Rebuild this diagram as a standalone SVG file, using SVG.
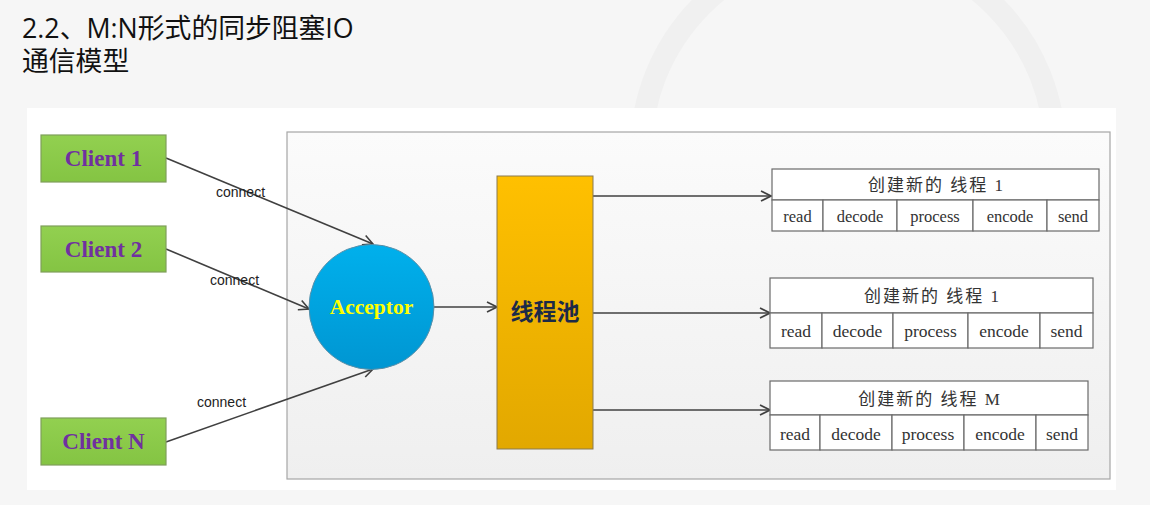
<svg xmlns="http://www.w3.org/2000/svg" width="1150" height="505" viewBox="0 0 1150 505">
  <style>
    .title { font-family: "Open Sans", "Noto Sans CJK SC", sans-serif; font-size: 26.8px; fill: #111; }
    .client-box { fill: url(#greenFill); stroke: #7f9f5a; stroke-width: 1.2; }
    .client-label { font-family: "Liberation Serif", serif; font-weight: bold; font-size: 23px; fill: #7030a0; text-anchor: middle; }
    .conn { stroke: #404040; stroke-width: 1.6; fill: none; marker-end: url(#chev); }
    .conn-label { font-family: "Liberation Sans", "DejaVu Sans", sans-serif; font-size: 14px; fill: #222; }
    .cell { fill: #ffffff; stroke: #6a6a6a; stroke-width: 1.2; }
    .cell-text { font-family: "Liberation Serif", serif; font-size: 17.5px; fill: #333; text-anchor: middle; }
    .small { font-size: 16.5px; }
    .head-text { font-family: "Liberation Serif", "Noto Sans CJK SC", serif; font-size: 17px; letter-spacing: 2px; fill: #333; text-anchor: middle; }
  </style>
  <defs>
    <linearGradient id="greenFill" x1="0" y1="0" x2="0" y2="1">
      <stop offset="0" stop-color="#92d050"/>
      <stop offset="1" stop-color="#84c443"/>
    </linearGradient>
    <linearGradient id="blueFill" x1="0" y1="0" x2="0" y2="1">
      <stop offset="0" stop-color="#00b0ec"/>
      <stop offset="1" stop-color="#0096d2"/>
    </linearGradient>
    <linearGradient id="orangeFill" x1="0" y1="0" x2="0" y2="1">
      <stop offset="0" stop-color="#ffc000"/>
      <stop offset="1" stop-color="#e2a800"/>
    </linearGradient>
    <linearGradient id="frameFill" x1="0" y1="0" x2="0" y2="1">
      <stop offset="0" stop-color="#fbfbfb"/>
      <stop offset="1" stop-color="#efefef"/>
    </linearGradient>
    <marker id="chev" viewBox="0 0 12 12" refX="11" refY="6" markerWidth="12" markerHeight="12" markerUnits="userSpaceOnUse" orient="auto">
      <path d="M1,1 L11,6 L1,11" fill="none" stroke="#404040" stroke-width="1.6"/>
    </marker>
  </defs>

  <!-- page background with a faint ring ornament -->
  <rect x="0" y="0" width="1150" height="505" fill="#f6f6f6"/>
  <circle cx="848" cy="152" r="207" fill="none" stroke="#f0f0f0" stroke-width="22"/>
  <rect x="27" y="108" width="1089" height="382" fill="#ffffff"/>

  <!-- heading, two lines -->
  <text class="title" x="22" y="38">2.2、M:N形式的同步阻塞IO<tspan x="22" dy="33">通信模型</tspan></text>

  <!-- server frame -->
  <rect x="287" y="132" width="823" height="347" fill="url(#frameFill)" stroke="#a6a6a6" stroke-width="1.2"/>

  <!-- connectors -->
  <g id="connectors">
    <line class="conn" x1="166" y1="158" x2="373" y2="244"/>
    <line class="conn" x1="166" y1="249" x2="309" y2="309"/>
    <line class="conn" x1="166" y1="442" x2="373" y2="369"/>
    <line class="conn" x1="434" y1="307" x2="497" y2="307"/>
    <line class="conn" x1="593" y1="196" x2="771" y2="196"/>
    <line class="conn" x1="593" y1="313" x2="770" y2="313"/>
    <line class="conn" x1="593" y1="410" x2="770" y2="410"/>
    <text class="conn-label" x="216" y="197">connect</text>
    <text class="conn-label" x="210" y="285">connect</text>
    <text class="conn-label" x="197" y="407">connect</text>
  </g>

  <!-- clients -->
  <g id="client1">
    <rect class="client-box" x="41" y="135" width="125" height="47"/>
    <text class="client-label" x="103.5" y="166">Client 1</text>
  </g>
  <g id="client2">
    <rect class="client-box" x="41" y="226" width="125" height="46"/>
    <text class="client-label" x="103.5" y="257">Client 2</text>
  </g>
  <g id="clientN">
    <rect class="client-box" x="41" y="418" width="125" height="47"/>
    <text class="client-label" x="103.5" y="449">Client N</text>
  </g>

  <!-- acceptor -->
  <g id="acceptor">
    <circle cx="371.5" cy="307" r="62.5" fill="url(#blueFill)" stroke="#5a8fa8" stroke-width="1"/>
    <text x="371.5" y="314" text-anchor="middle" font-family="Liberation Serif, serif" font-weight="bold" font-size="21.5" fill="#ffff00">Acceptor</text>
  </g>

  <!-- thread pool -->
  <g id="threadPool">
    <rect x="497" y="176" width="96" height="273" fill="url(#orangeFill)" stroke="#8a7a50" stroke-width="1"/>
    <text x="545" y="320" text-anchor="middle" font-family="Noto Sans CJK SC, sans-serif" font-weight="bold" font-size="23" fill="#1c2a48">线程池</text>
  </g>

  <!-- worker thread 1 (top) -->
  <g id="thread1">
    <rect class="cell" x="772" y="169" width="327" height="31"/>
    <text class="head-text" x="936.5" y="191">创建新的 线程 1</text>
    <rect class="cell" x="772" y="200" width="51" height="31"/>
    <rect class="cell" x="823" y="200" width="74" height="31"/>
    <rect class="cell" x="897" y="200" width="76" height="31"/>
    <rect class="cell" x="973" y="200" width="74" height="31"/>
    <rect class="cell" x="1047" y="200" width="52" height="31"/>
    <text class="cell-text small" x="797.5" y="222">read</text>
    <text class="cell-text small" x="860" y="222">decode</text>
    <text class="cell-text small" x="935" y="222">process</text>
    <text class="cell-text small" x="1010" y="222">encode</text>
    <text class="cell-text small" x="1073" y="222">send</text>
  </g>

  <!-- worker thread 2 (middle) -->
  <g id="thread2">
    <rect class="cell" x="770" y="278" width="323" height="35"/>
    <text class="head-text" x="932.5" y="302">创建新的 线程 1</text>
    <rect class="cell" x="770" y="313" width="52" height="35"/>
    <rect class="cell" x="822" y="313" width="71" height="35"/>
    <rect class="cell" x="893" y="313" width="75" height="35"/>
    <rect class="cell" x="968" y="313" width="72" height="35"/>
    <rect class="cell" x="1040" y="313" width="53" height="35"/>
    <text class="cell-text" x="796" y="337">read</text>
    <text class="cell-text" x="857.5" y="337">decode</text>
    <text class="cell-text" x="930.5" y="337">process</text>
    <text class="cell-text" x="1004" y="337">encode</text>
    <text class="cell-text" x="1066.5" y="337">send</text>
  </g>

  <!-- worker thread M (bottom) -->
  <g id="threadM">
    <rect class="cell" x="770" y="381" width="318" height="34"/>
    <text class="head-text" x="930" y="405">创建新的 线程 M</text>
    <rect class="cell" x="770" y="415" width="50" height="35"/>
    <rect class="cell" x="820" y="415" width="72" height="35"/>
    <rect class="cell" x="892" y="415" width="72" height="35"/>
    <rect class="cell" x="964" y="415" width="72" height="35"/>
    <rect class="cell" x="1036" y="415" width="52" height="35"/>
    <text class="cell-text" x="795" y="440">read</text>
    <text class="cell-text" x="856" y="440">decode</text>
    <text class="cell-text" x="928" y="440">process</text>
    <text class="cell-text" x="1000" y="440">encode</text>
    <text class="cell-text" x="1062" y="440">send</text>
  </g>
</svg>
